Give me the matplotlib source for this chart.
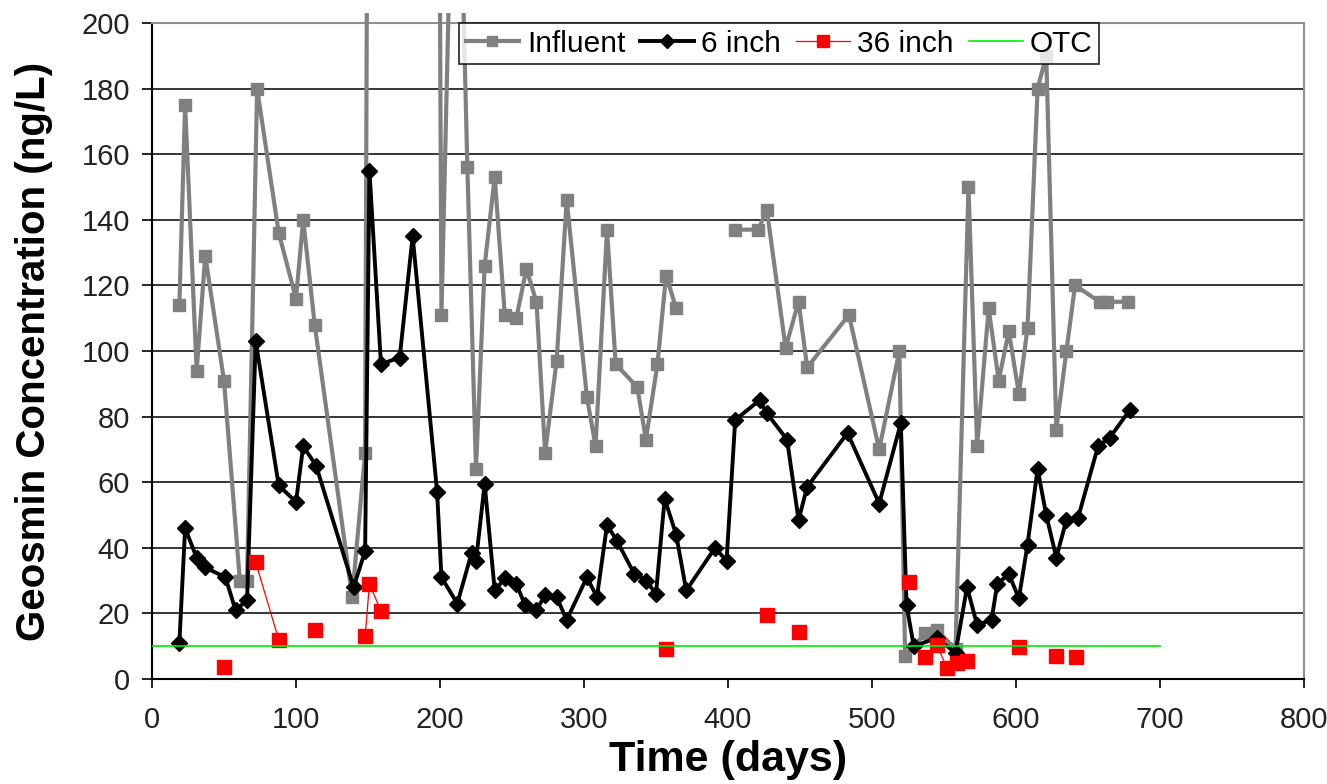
import matplotlib

matplotlib.use("Agg")
import matplotlib.pyplot as plt
import numpy as np
from matplotlib.patches import Rectangle

matplotlib.rcParams["font.family"] = ["Liberation Sans", "DejaVu Sans"]

# Influent (grey squares); NaN = gap in the Excel series
influent_days = [19, 23, 31, 37, 50, 61, 66, 73, 88, 100, 105, 113, 139, 148, 150, 199,
                 201, 211, 219, 225, 231, 238, 245, 253, 260, 267, 273, 281, 288, 302,
                 308, 316, 322, 337, 343, 351, 357, 364, 385, 405, 421, 427, 440, 449,
                 455, 484, 505, 519, 523, 537, 545, 558, 567, 573, 581, 588, 595, 602,
                 608, 615, 621, 628, 635, 641, 658, 663, 678]
influent_vals = [114, 175, 94, 129, 91, 30, 30, 180, 136, 116, 140, 108, 25, 69, 300, 300,
                 111, 300, 156, 64, 126, 153, 111, 110, 125, 115, 69, 97, 146, 86,
                 71, 137, 96, 89, 73, 96, 123, 113, np.nan, 137, 137, 143, 101, 115,
                 95, 111, 70, 100, 7, 14, 15, 9, 150, 71, 113, 91, 106, 87,
                 107, 180, 190, 76, 100, 120, 115, 115, 115]

# 6 inch (black diamonds)
six_days = [19, 23, 31, 37, 51, 58, 66, 72, 88, 100, 105, 114, 140, 148, 151, 159, 172,
            181, 198, 201, 212, 222, 225, 231, 238, 245, 253, 259, 267, 273, 281, 288,
            302, 309, 316, 323, 335, 343, 350, 356, 364, 371, 391, 399, 405, 422, 427,
            441, 449, 455, 483, 505, 520, 524, 529, 545, 558, 566, 573, 583, 587, 595,
            602, 608, 615, 621, 628, 635, 643, 657, 665, 679]
six_vals = [11, 46, 37, 34, 31, 21, 24, 103, 59, 54, 71, 65, 28, 39, 155, 96, 98,
            135, 57, 31, 23, 38.5, 36, 59.5, 27, 30.7, 29, 22.6, 21, 25.6, 25, 18,
            31, 25, 47, 42, 32, 30, 26, 55, 44, 27, 40, 36, 79, 85, 81,
            73, 48.5, 58.6, 75, 53.5, 78, 22.5, 10, 12.5, 8, 28, 16.5, 18, 29, 32,
            24.6, 41, 64, 50, 37, 48.5, 49, 71, 73.5, 82]

# 36 inch (red squares); NaN = missing sample
deep_days = [50, 60, 72, 88, 100, 113, 130, 148, 151, 159, 250, 357, 400, 427, 440, 449,
             500, 526, 530, 537, 545, 552, 559, 566, 580, 602, 615, 628, 635, 642]
deep_vals = [3.8, np.nan, 35.6, 12, np.nan, 15, np.nan, 13, 29, 20.7, np.nan, 9, np.nan,
             19.5, np.nan, 14.4, np.nan, 29.7, np.nan, 6.8, 10.4, 3.5, 5, 5.5, np.nan,
             9.7, np.nan, 7, np.nan, 6.8]

# OTC threshold
otc_days = [0, 700]
otc_vals = [10, 10]

fig = plt.figure(figsize=(13.27, 7.84), dpi=100)
ax = fig.add_axes([152 / 1327, 1 - 679 / 784, 1152 / 1327, 656 / 784])

# lines may poke slightly above the plot area, like the original
clip = Rectangle((0, 0), 1, 1.015, transform=ax.transAxes)

l1, = ax.plot(influent_days, influent_vals, color="#808080", lw=3, marker="s",
              ms=8, mec="#808080", label="Influent", zorder=3)
l2, = ax.plot(six_days, six_vals, color="black", lw=2.8, marker="D", ms=8,
              label="6 inch", zorder=4)
l3, = ax.plot(deep_days, deep_vals, color="red", lw=0.9, marker="s", ms=10,
              mec="red", label="36 inch", zorder=5)
l4, = ax.plot(otc_days, otc_vals, color="#00ee00", lw=1.2, label="OTC", zorder=5)
for line in (l1, l2, l3):
    line.set_clip_path(clip)

ax.set_xlim(0, 800)
ax.set_ylim(0, 200)
ax.set_xticks(np.arange(0, 801, 100))
ax.set_yticks(np.arange(0, 201, 20))
ax.yaxis.grid(True, color="black", lw=1.1)
ax.set_axisbelow(True)

for side in ("top", "right"):
    ax.spines[side].set_color("#909090")
    ax.spines[side].set_linewidth(1.5)
for side in ("left", "bottom"):
    ax.spines[side].set_color("black")
    ax.spines[side].set_linewidth(1.5)

ax.tick_params(axis="y", direction="out", length=7, width=1.2, pad=9, labelsize=21,
               labelcolor="#222222")
ax.tick_params(axis="x", direction="out", length=6.5, width=1.2, pad=13, labelsize=21,
               labelcolor="#222222")

ax.set_xlabel("Time (days)", fontsize=31, fontweight="bold", labelpad=4)
ax.set_ylabel("Geosmin Concentration (ng/L)", fontsize=29, fontweight="bold", labelpad=20)

leg = ax.legend(handles=[l1, l2, l3, l4], ncol=4, loc="upper left",
                bbox_to_anchor=(459 / 1327, 1 - 23 / 784), bbox_transform=fig.transFigure,
                fontsize=21.5, frameon=True, fancybox=False, borderaxespad=0,
                handlelength=1.8, handletextpad=0.25, columnspacing=0.5,
                borderpad=0.22, markerscale=0.9)
leg.get_frame().set_edgecolor("black")
leg.get_frame().set_linewidth(1.3)
leg.set_zorder(10)

fig.savefig("out.png", dpi=100)
